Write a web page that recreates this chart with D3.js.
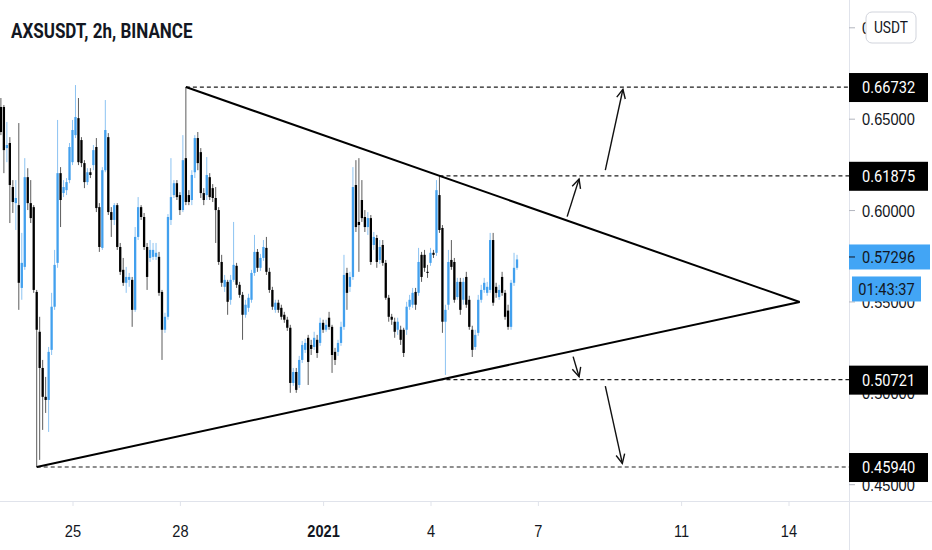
<!DOCTYPE html>
<html>
<head>
<meta charset="utf-8">
<title>AXSUSDT, 2h, BINANCE</title>
<script src="https://cdn.jsdelivr.net/npm/d3@7/dist/d3.min.js"></script>
<style>
  html, body { margin: 0; padding: 0; background: #fff; }
  svg { display: block; font-family: Roboto, "Noto Sans", sans-serif; }
</style>
</head>
<body>
<div id="chart"></div>
<script>
(function () {
  'use strict';

  var title = 'AXSUSDT, 2h, BINANCE';
  var currency = 'USDT';
  var firstBar = '2020-12-23T00:00Z';
  var barHours = 2;

  // open, high, low, close
  var bars = [
    [0.6564, 0.6613, 0.6410, 0.6427], [0.6564, 0.6575, 0.6202, 0.6328], [0.6339, 0.6482, 0.6262, 0.6356], [0.6367, 0.6399, 0.5929, 0.6137],
    [0.6126, 0.6164, 0.5984, 0.6044], [0.6038, 0.6164, 0.5891, 0.6066], [0.6027, 0.6476, 0.5454, 0.5602], [0.5574, 0.5875, 0.5509, 0.5711],
    [0.5689, 0.6284, 0.5673, 0.6180], [0.6180, 0.6229, 0.6000, 0.6038], [0.6038, 0.6164, 0.5929, 0.5956], [0.6016, 0.6027, 0.5547, 0.5563],
    [0.5552, 0.5563, 0.4594, 0.5345], [0.5334, 0.5416, 0.4633, 0.5136], [0.5136, 0.5180, 0.4797, 0.4978], [0.4978, 0.5087, 0.4890, 0.4961],
    [0.4961, 0.5251, 0.4786, 0.5224], [0.5235, 0.5547, 0.5207, 0.5471], [0.5471, 0.5782, 0.5454, 0.5700], [0.5711, 0.6493, 0.5684, 0.6202],
    [0.6202, 0.6235, 0.5907, 0.6055], [0.6093, 0.6164, 0.6071, 0.6126], [0.6109, 0.6175, 0.6082, 0.6153], [0.6164, 0.6367, 0.6147, 0.6345],
    [0.6262, 0.6493, 0.6246, 0.6438], [0.6410, 0.6684, 0.6394, 0.6509], [0.6503, 0.6613, 0.6246, 0.6262], [0.6383, 0.6399, 0.6235, 0.6257],
    [0.6257, 0.6273, 0.6120, 0.6153], [0.6153, 0.6229, 0.6137, 0.6207], [0.6207, 0.6229, 0.6175, 0.6192], [0.6246, 0.6356, 0.6218, 0.6328],
    [0.6345, 0.6394, 0.5989, 0.6011], [0.6016, 0.6038, 0.5771, 0.5798], [0.5793, 0.6235, 0.5782, 0.6218], [0.6218, 0.6602, 0.6207, 0.6438],
    [0.6399, 0.6421, 0.5973, 0.5989], [0.5989, 0.6016, 0.5853, 0.5946], [0.5946, 0.6038, 0.5918, 0.6027], [0.6027, 0.6038, 0.5782, 0.5798],
    [0.5798, 0.5820, 0.5645, 0.5662], [0.5673, 0.5738, 0.5585, 0.5602], [0.5602, 0.5689, 0.5547, 0.5634], [0.5618, 0.5656, 0.5580, 0.5634],
    [0.5618, 0.5634, 0.5361, 0.5454], [0.5454, 0.5907, 0.5443, 0.5853], [0.5853, 0.6071, 0.5836, 0.6016], [0.6016, 0.6027, 0.5946, 0.5962],
    [0.5962, 0.5984, 0.5782, 0.5798], [0.5798, 0.5820, 0.5563, 0.5634], [0.5738, 0.5836, 0.5716, 0.5782], [0.5744, 0.5820, 0.5727, 0.5782],
    [0.5744, 0.5820, 0.5727, 0.5766], [0.5744, 0.5771, 0.5531, 0.5547], [0.5552, 0.5563, 0.5180, 0.5345], [0.5345, 0.5438, 0.5328, 0.5416],
    [0.5416, 0.5978, 0.5400, 0.5962], [0.5946, 0.6284, 0.5918, 0.6071], [0.6082, 0.6164, 0.6066, 0.6147], [0.6147, 0.6164, 0.6055, 0.6071],
    [0.6082, 0.6098, 0.5973, 0.6000], [0.6000, 0.6410, 0.5989, 0.6273], [0.6284, 0.66732, 0.6027, 0.6044], [0.6082, 0.6109, 0.6027, 0.6044],
    [0.6055, 0.6218, 0.6027, 0.6192], [0.6207, 0.6410, 0.6175, 0.6394], [0.6394, 0.6427, 0.6218, 0.6257], [0.6317, 0.6339, 0.6066, 0.6093],
    [0.6093, 0.6120, 0.6027, 0.6055], [0.6082, 0.6290, 0.6055, 0.6192], [0.6180, 0.6202, 0.6055, 0.6071], [0.6120, 0.6142, 0.6044, 0.6066],
    [0.6066, 0.6126, 0.5820, 0.6000], [0.6000, 0.6016, 0.5700, 0.5716], [0.5716, 0.5755, 0.5580, 0.5602], [0.5580, 0.5645, 0.5552, 0.5618],
    [0.5607, 0.5618, 0.5427, 0.5498], [0.5509, 0.5645, 0.5482, 0.5618], [0.5618, 0.5935, 0.5607, 0.5700], [0.5695, 0.5711, 0.5574, 0.5591],
    [0.5591, 0.5607, 0.5520, 0.5536], [0.5536, 0.5552, 0.5290, 0.5427], [0.5427, 0.5509, 0.5411, 0.5482], [0.5465, 0.5542, 0.5443, 0.5520],
    [0.5509, 0.5673, 0.5493, 0.5656], [0.5656, 0.5864, 0.5640, 0.5771], [0.5771, 0.5787, 0.5662, 0.5684], [0.5684, 0.5760, 0.5667, 0.5738],
    [0.5738, 0.5836, 0.5722, 0.5798], [0.5793, 0.5853, 0.5645, 0.5662], [0.5662, 0.5684, 0.5547, 0.5563], [0.5563, 0.5580, 0.5454, 0.5471],
    [0.5454, 0.5509, 0.5438, 0.5493], [0.5493, 0.5509, 0.5438, 0.5454], [0.5465, 0.5482, 0.5400, 0.5416], [0.5427, 0.5443, 0.5383, 0.5400],
    [0.5400, 0.5416, 0.5339, 0.5356], [0.5356, 0.5372, 0.5000, 0.5054], [0.5054, 0.5136, 0.5038, 0.5114], [0.5114, 0.5136, 0.5000, 0.5016],
    [0.5043, 0.5202, 0.5027, 0.5180], [0.5180, 0.5284, 0.5163, 0.5262], [0.5235, 0.5295, 0.5218, 0.5273], [0.5301, 0.5317, 0.5043, 0.5169],
    [0.5262, 0.5290, 0.5207, 0.5240], [0.5251, 0.5334, 0.5235, 0.5301], [0.5290, 0.5317, 0.5191, 0.5218], [0.5273, 0.5411, 0.5257, 0.5383],
    [0.5383, 0.5400, 0.5328, 0.5345], [0.5345, 0.5400, 0.5334, 0.5372], [0.5411, 0.5443, 0.5345, 0.5361], [0.5361, 0.5372, 0.5109, 0.5207],
    [0.5224, 0.5246, 0.5152, 0.5180], [0.5224, 0.5290, 0.5202, 0.5273], [0.5273, 0.5389, 0.5257, 0.5361], [0.5361, 0.5755, 0.5345, 0.5645],
    [0.5656, 0.5684, 0.5454, 0.5547], [0.5580, 0.5662, 0.5552, 0.5634], [0.5634, 0.6235, 0.5618, 0.6126], [0.6137, 0.6273, 0.5880, 0.5907],
    [0.5935, 0.6284, 0.5662, 0.5918], [0.6055, 0.6164, 0.5935, 0.5956], [0.5962, 0.6000, 0.5880, 0.5907], [0.5907, 0.5989, 0.5864, 0.5956],
    [0.5956, 0.5973, 0.5700, 0.5716], [0.5809, 0.5880, 0.5782, 0.5853], [0.5847, 0.5864, 0.5684, 0.5716], [0.5727, 0.5836, 0.5705, 0.5798],
    [0.5809, 0.5836, 0.5695, 0.5711], [0.5711, 0.5727, 0.5509, 0.5520], [0.5520, 0.5536, 0.5389, 0.5416], [0.5416, 0.5432, 0.5372, 0.5400],
    [0.5389, 0.5411, 0.5301, 0.5334], [0.5345, 0.5411, 0.5317, 0.5389], [0.5345, 0.5367, 0.5262, 0.5290], [0.5345, 0.5356, 0.5196, 0.5218],
    [0.5345, 0.5498, 0.5317, 0.5471], [0.5471, 0.5536, 0.5454, 0.5509], [0.5482, 0.5574, 0.5465, 0.5547], [0.5552, 0.5574, 0.5454, 0.5482],
    [0.5547, 0.5793, 0.5531, 0.5716], [0.5755, 0.5771, 0.5607, 0.5634], [0.5755, 0.5782, 0.5662, 0.5684], [0.5662, 0.5700, 0.5629, 0.5656],
    [0.5711, 0.5793, 0.5695, 0.5766], [0.5766, 0.5782, 0.5738, 0.5755], [0.5766, 0.6164, 0.5749, 0.6109], [0.6082, 0.61875, 0.5875, 0.5891],
    [0.5902, 0.5918, 0.5328, 0.5389], [0.5389, 0.5482, 0.5098, 0.5454], [0.5482, 0.5782, 0.5454, 0.5716], [0.5727, 0.5836, 0.5673, 0.5689],
    [0.5716, 0.5738, 0.5493, 0.5509], [0.5524, 0.5629, 0.5509, 0.5607], [0.5607, 0.5629, 0.5427, 0.5454], [0.5509, 0.5629, 0.5482, 0.5607],
    [0.5634, 0.5662, 0.5465, 0.5482], [0.5509, 0.5531, 0.5345, 0.5361], [0.5345, 0.5367, 0.5196, 0.5235], [0.5251, 0.5345, 0.5235, 0.5317],
    [0.5328, 0.5536, 0.5312, 0.5509], [0.5509, 0.5591, 0.5493, 0.5563], [0.5563, 0.5629, 0.5547, 0.5602], [0.5547, 0.5607, 0.5531, 0.5580],
    [0.5563, 0.5875, 0.5547, 0.5836], [0.5836, 0.5875, 0.5476, 0.5493], [0.5580, 0.5602, 0.5520, 0.5547], [0.5524, 0.5591, 0.5509, 0.5563],
    [0.5634, 0.5662, 0.5531, 0.5547], [0.5547, 0.5563, 0.5400, 0.5416], [0.5450, 0.5482, 0.5345, 0.5361], [0.5361, 0.5618, 0.5345, 0.5602],
    [0.5602, 0.5766, 0.5585, 0.5684], [0.5684, 0.5755, 0.5673, 0.57296]
  ];

  var lastPrice = 0.57296;
  var countdown = '01:43:37';

  var priceTicks = [0.45, 0.50, 0.55, 0.60, 0.65, 0.70];
  var timeTicks = ['2020-12-25', '2020-12-28', '2021-01-01', '2021-01-04', '2021-01-07', '2021-01-11', '2021-01-14'];
  var timeLabels = ['25', '28', '2021', '4', '7', '11', '14'];

  var levels = [0.66732, 0.61875, 0.50721, 0.45940];
  var levelStarts = ['2020-12-28T04:00Z', '2021-01-04T06:00Z', '2021-01-04T06:00Z', '2020-12-24T00:00Z'];

  var trendUpper = [['2020-12-28T04:00Z', 0.66732], ['2021-01-14T07:30Z', 0.5497]];
  var trendLower = [['2020-12-24T00:00Z', 0.45940], ['2021-01-14T07:30Z', 0.5497]];

  var arrows = [
    [['2021-01-07T19:36Z', 0.5964], ['2021-01-08T03:36Z', 0.6170]],
    [['2021-01-08T21:12Z', 0.6219], ['2021-01-09T09:00Z', 0.6661]],
    [['2021-01-07T23:36Z', 0.5198], ['2021-01-08T03:36Z', 0.5088]],
    [['2021-01-08T21:12Z', 0.5037], ['2021-01-09T08:36Z', 0.4614]]
  ];

  var width = 932,
      height = 550,
      paneRight = 849,
      paneBottom = 501,
      squeeze = 0.86,
      bodyWidth = 2.3,
      upColor = '#42a0ee',
      upWick = '#8cc3f2',
      downColor = '#000000',
      downWick = '#5c5c5c',
      textColor = '#131722',
      borderColor = '#e0e3eb',
      lastColor = '#42a5f5';

  var start = new Date(firstBar).getTime();
  function barTime(i) { return new Date(start + i * barHours * 3600 * 1000); }

  var x = d3.scaleUtc()
    .domain([new Date('2020-12-25T00:00Z'), new Date('2021-01-14T00:00Z')])
    .range([72.5, 788.5]);

  var y = d3.scaleLinear()
    .domain([0.45, 0.70])
    .range([484.2, 27.3]);

  var svg = d3.select('#chart')
    .append('svg')
    .attr('width', width)
    .attr('height', height);

  svg.append('rect')
    .attr('width', width)
    .attr('height', height)
    .attr('fill', '#fff');

  // pane borders
  svg.append('line')
    .attr('x1', paneRight + 0.5).attr('x2', paneRight + 0.5)
    .attr('y1', 0).attr('y2', height)
    .attr('stroke', borderColor);
  svg.append('line')
    .attr('x1', 0).attr('x2', width)
    .attr('y1', paneBottom + 0.5).attr('y2', paneBottom + 0.5)
    .attr('stroke', borderColor);

  // candles
  var candle = svg.append('g')
    .attr('class', 'candles')
    .selectAll('g')
    .data(bars)
    .enter()
    .append('g')
    .attr('transform', function (d, i) {
      return 'translate(' + x(barTime(i)) + ',0)';
    });

  candle.append('line')
    .attr('y1', function (d) { return y(d[1]); })
    .attr('y2', function (d) { return y(d[2]); })
    .attr('stroke', function (d) { return d[3] >= d[0] ? upWick : downWick; })
    .attr('stroke-width', 1);

  candle.append('rect')
    .attr('x', -bodyWidth / 2)
    .attr('width', bodyWidth)
    .attr('y', function (d) { return y(Math.max(d[0], d[3])); })
    .attr('height', function (d) { return Math.max(1, Math.abs(y(d[0]) - y(d[3]))); })
    .attr('fill', function (d) { return d[3] >= d[0] ? upColor : downColor; });

  // dashed price levels
  svg.append('g')
    .selectAll('line')
    .data(levels)
    .enter()
    .append('line')
    .attr('x1', function (d, i) { return x(new Date(levelStarts[i])); })
    .attr('x2', paneRight)
    .attr('y1', function (d) { return y(d); })
    .attr('y2', function (d) { return y(d); })
    .attr('stroke', '#1e1e1e')
    .attr('stroke-width', 1.2)
    .attr('stroke-dasharray', '4,3');

  // triangle
  var trend = d3.line()
    .x(function (d) { return x(new Date(d[0])); })
    .y(function (d) { return y(d[1]); });

  svg.append('g')
    .selectAll('path')
    .data([trendUpper, trendLower])
    .enter()
    .append('path')
    .attr('d', trend)
    .attr('fill', 'none')
    .attr('stroke', '#000')
    .attr('stroke-width', 2);

  // arrows
  var arrow = svg.append('g')
    .selectAll('g')
    .data(arrows)
    .enter()
    .append('g')
    .attr('fill', 'none')
    .attr('stroke', '#111')
    .attr('stroke-width', 1.4);

  arrow.append('path').attr('d', trend);

  arrow.append('path')
    .attr('d', function (d) {
      var x1 = x(new Date(d[0][0])), y1 = y(d[0][1]),
          x2 = x(new Date(d[1][0])), y2 = y(d[1][1]),
          a = Math.atan2(y2 - y1, x2 - x1),
          len = 10, spread = 0.45;
      return 'M' + (x2 - len * Math.cos(a - spread)) + ',' + (y2 - len * Math.sin(a - spread)) +
        'L' + x2 + ',' + y2 +
        'L' + (x2 - len * Math.cos(a + spread)) + ',' + (y2 - len * Math.sin(a + spread));
    });

  // price axis
  var yAxis = svg.append('g')
    .attr('transform', 'translate(' + paneRight + ',0)')
    .call(d3.axisRight(y)
      .tickValues(priceTicks)
      .tickSize(6)
      .tickFormat(d3.format('.5f')));

  yAxis.select('.domain').remove();
  yAxis.selectAll('.tick line').attr('stroke', '#b2b5be');
  yAxis.selectAll('.tick text')
    .attr('x', 13 / squeeze)
    .attr('dy', '0.35em')
    .attr('transform', 'scale(' + squeeze + ',1)')
    .attr('fill', textColor)
    .style('font-size', '17px');

  // time axis
  var xAxis = svg.append('g')
    .attr('transform', 'translate(0,' + paneBottom + ')')
    .call(d3.axisBottom(x)
      .tickValues(timeTicks.map(function (d) { return new Date(d + 'T00:00Z'); }))
      .tickSize(5)
      .tickFormat(function (d, i) { return timeLabels[i]; }));

  xAxis.select('.domain').remove();
  xAxis.selectAll('.tick line').attr('stroke', borderColor);
  xAxis.selectAll('.tick text')
    .attr('y', 36)
    .attr('dy', null)
    .attr('transform', 'scale(' + squeeze + ',1)')
    .attr('fill', textColor)
    .style('font-size', '17px')
    .style('font-weight', function (d, i) { return timeLabels[i] === '2021' ? 'bold' : 'normal'; });

  // level labels
  var tag = svg.append('g')
    .selectAll('g')
    .data(levels)
    .enter()
    .append('g')
    .attr('transform', function (d) { return 'translate(' + paneRight + ',' + y(d) + ')'; });

  tag.append('rect')
    .attr('x', 0)
    .attr('y', -14)
    .attr('width', 79)
    .attr('height', 29)
    .attr('fill', '#000');

  tag.append('text')
    .attr('transform', 'translate(13,0) scale(' + squeeze + ',1)')
    .attr('dy', '0.35em')
    .attr('fill', '#fff')
    .style('font-size', '17px')
    .text(function (d) { return d3.format('.5f')(d); });

  // last price and countdown
  var last = svg.append('g')
    .attr('transform', 'translate(' + paneRight + ',' + y(lastPrice) + ')');

  last.append('rect')
    .attr('x', 0).attr('y', -15)
    .attr('width', 81).attr('height', 25)
    .attr('fill', lastColor);
  last.append('line')
    .attr('x1', 0).attr('x2', 6)
    .attr('y1', -2.5).attr('y2', -2.5)
    .attr('stroke', textColor);
  last.append('text')
    .attr('transform', 'translate(13,-2.5) scale(' + squeeze + ',1)')
    .attr('dy', '0.35em')
    .attr('fill', textColor)
    .style('font-size', '17px')
    .text(d3.format('.5f')(lastPrice));

  last.append('rect')
    .attr('x', 3).attr('y', 17)
    .attr('width', 69).attr('height', 25)
    .attr('fill', lastColor);
  last.append('text')
    .attr('transform', 'translate(37.5,29.5) scale(' + squeeze + ',1)')
    .attr('dy', '0.35em')
    .attr('text-anchor', 'middle')
    .attr('fill', textColor)
    .style('font-size', '17px')
    .text(countdown);

  // currency button
  var btn = svg.append('g')
    .attr('transform', 'translate(866,12)');
  btn.append('rect')
    .attr('width', 50).attr('height', 31)
    .attr('rx', 6)
    .attr('fill', '#fff')
    .attr('stroke', '#d1d4dc');
  btn.append('text')
    .attr('transform', 'translate(25,15.5) scale(' + squeeze + ',1)')
    .attr('dy', '0.35em')
    .attr('text-anchor', 'middle')
    .attr('fill', textColor)
    .style('font-size', '16px')
    .text(currency);

  svg.append('text')
    .attr('transform', 'translate(11,38) scale(0.81,1)')
    .attr('fill', textColor)
    .style('font-size', '21px')
    .style('font-weight', 'bold')
    .text(title);
}());
</script>
</body>
</html>
